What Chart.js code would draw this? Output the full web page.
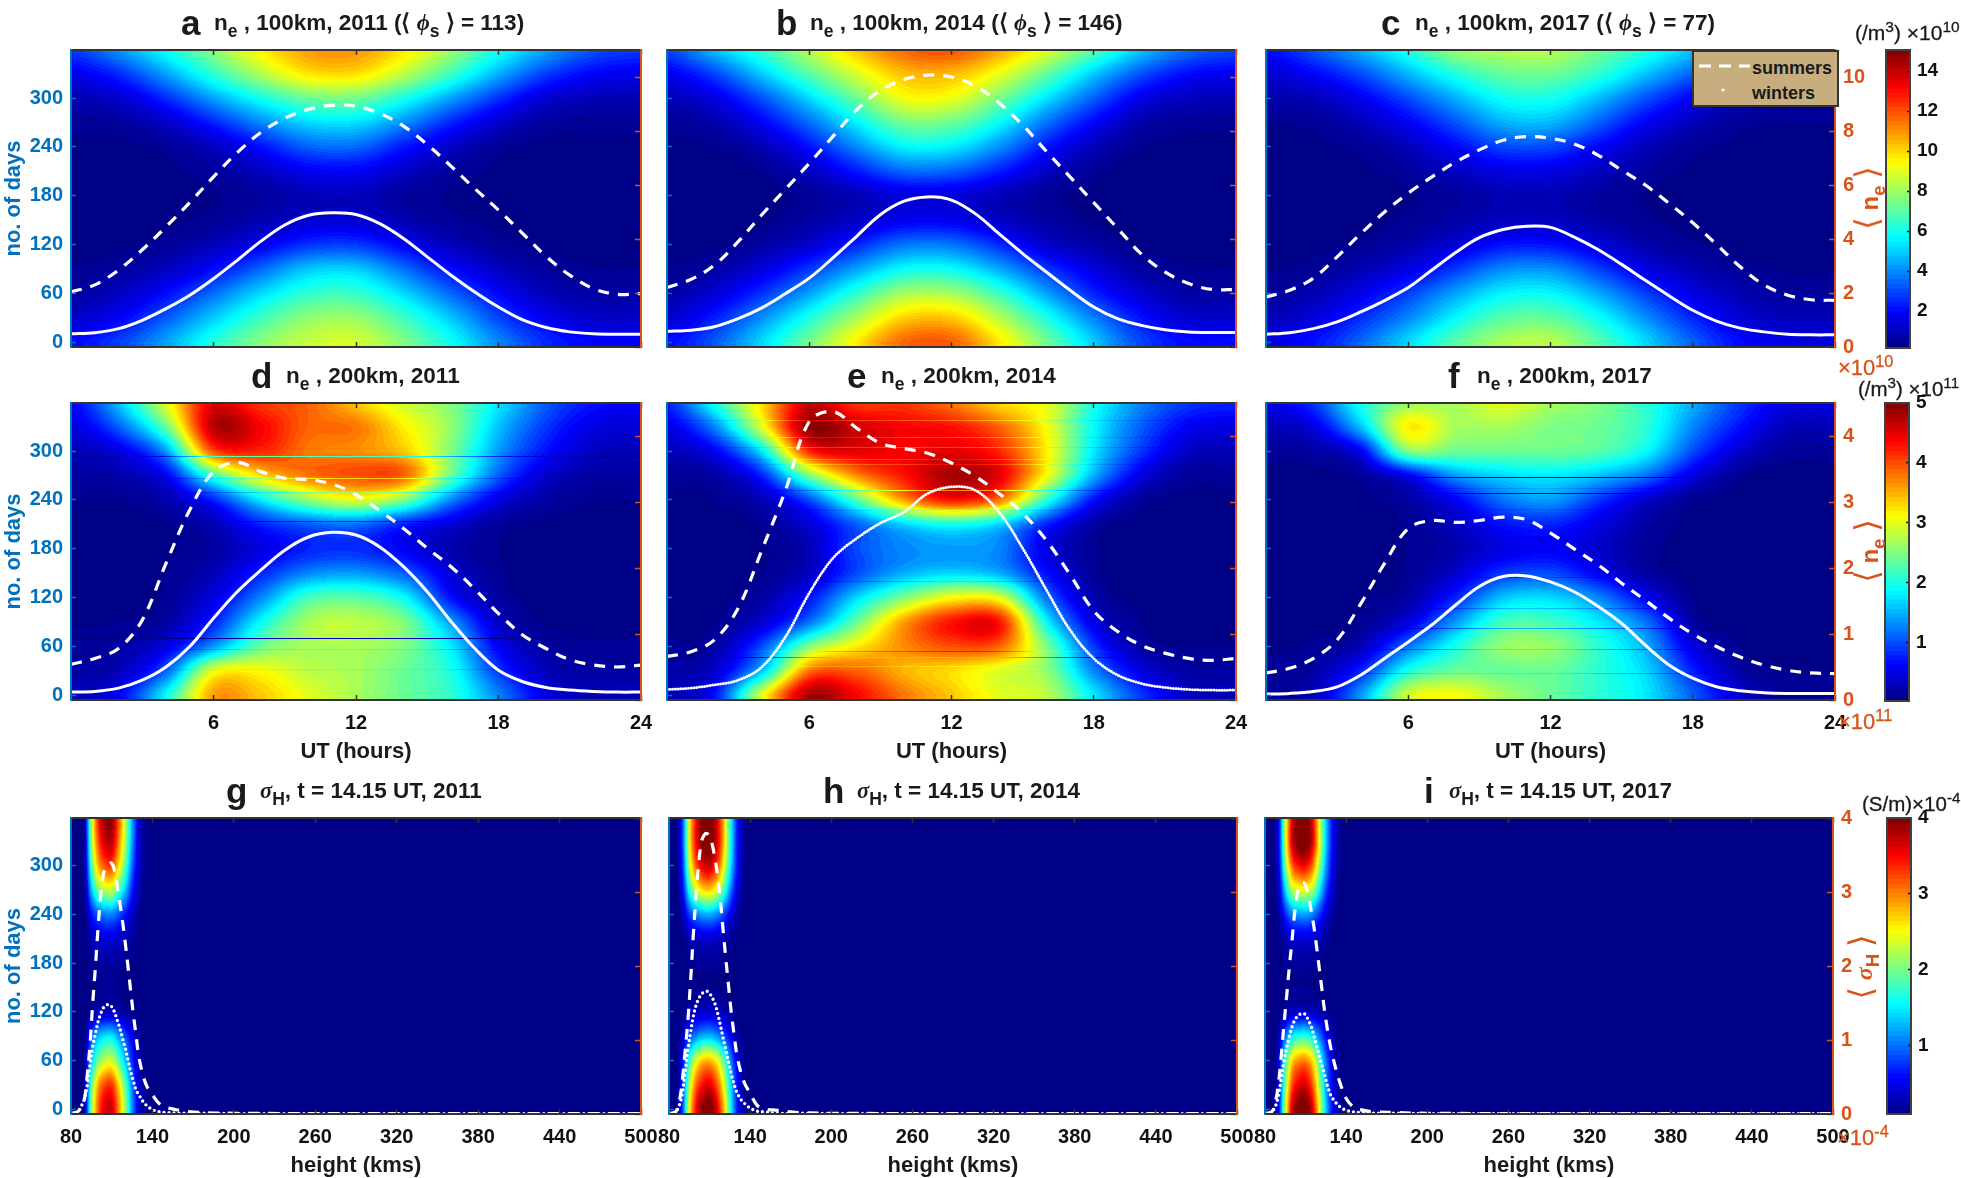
<!DOCTYPE html>
<html>
<head>
<meta charset="utf-8">
<title>Electron density and Hall conductivity</title>
<script src="https://cdn.jsdelivr.net/npm/chart.js@4/dist/chart.umd.min.js"></script>
<style>
  html, body { margin: 0; padding: 0; background: #fff; }
  #page { position: relative; width: 1961px; height: 1178px; overflow: hidden; font-family: "Liberation Sans", Arial, sans-serif; }
  canvas { position: absolute; }
  .lab { position: absolute; white-space: nowrap; line-height: 1; font-weight: bold; color: #1a1a1a; z-index: 5; }
  .lab sub { font-size: .78em; vertical-align: -.38em; line-height: 0; }
  .lab sup { font-size: .74em; vertical-align: .5em; line-height: 0; }
  .lab i { font-family: "Liberation Serif", serif; }
  .lab b { font-size: 1.35em; font-weight: normal; line-height: 0; font-family: "DejaVu Sans", sans-serif; }
  .reg { font-weight: normal; -webkit-text-stroke: .3px currentColor; }
  #legend { position: absolute; left: 1692px; top: 50px; width: 143px; height: 53px; background: #c8ae7f; border: 2px solid #333; z-index: 6; }
</style>
</head>
<body>
<div id="page"></div>
<script>
// axes of the value grids
const gridHours = [0, 2, 4, 6, 8, 10, 12, 14, 16, 18, 20, 22, 24];
const gridHeights = [80, 85, 90, 95, 100, 105, 110, 115, 120, 125, 130, 135, 140, 145, 150];
const gridDays = [360, 330, 300, 270, 240, 210, 180, 150, 120, 90, 60, 30, 0];

// tick labels
const dayTicks = [0, 60, 120, 180, 240, 300];
const hourTicks = [6, 12, 18, 24];
const heightTicks = [80, 140, 200, 260, 320, 380, 440, 500];
const row1ValTicks = [0, 2, 4, 6, 8, 10];
const row2ValTicks = [0, 1, 2, 3, 4];
const row3ValTicks = [0, 1, 2, 3, 4];
const bar1Ticks = [2, 4, 6, 8, 10, 12, 14];
const bar2Ticks = [1, 2, 3, 4, 5];
const bar3Ticks = [1, 2, 3, 4];

// n_e at 100 km (x10^10 /m3), rows by gridDays, columns by gridHours
const ne100km2011 = [
  [2.8, 4.2, 5.9, 7.7, 9.6, 10.9, 11.0, 9.8, 8.0, 6.0, 4.4, 3.2, 2.8],
  [1.7, 2.6, 4.4, 6.4, 8.3, 9.8, 9.9, 8.5, 6.6, 4.6, 2.9, 2.0, 1.7],
  [0.9, 1.3, 2.6, 4.4, 6.0, 7.3, 7.4, 6.1, 4.4, 2.7, 1.4, 1.0, 0.9],
  [0.5, 0.6, 1.2, 2.5, 4.0, 5.2, 5.3, 4.1, 2.5, 1.3, 0.6, 0.5, 0.5],
  [0.3, 0.3, 0.5, 1.1, 2.2, 3.4, 3.5, 2.3, 1.2, 0.5, 0.3, 0.3, 0.3],
  [0.2, 0.2, 0.3, 0.6, 1.1, 1.8, 1.9, 1.2, 0.6, 0.3, 0.2, 0.2, 0.2],
  [0.2, 0.2, 0.2, 0.35, 0.6, 1.0, 1.05, 0.6, 0.35, 0.2, 0.2, 0.2, 0.2],
  [0.2, 0.2, 0.3, 0.5, 0.9, 1.3, 1.35, 0.9, 0.5, 0.3, 0.2, 0.2, 0.2],
  [0.3, 0.3, 0.5, 1.0, 1.8, 2.7, 2.8, 1.9, 1.0, 0.5, 0.3, 0.3, 0.3],
  [0.4, 0.6, 1.1, 2.1, 3.5, 4.9, 5.0, 3.6, 2.1, 1.1, 0.6, 0.4, 0.4],
  [0.7, 1.1, 2.1, 3.6, 5.2, 6.4, 6.5, 5.2, 3.5, 2.0, 1.0, 0.7, 0.7],
  [1.2, 1.9, 3.3, 5.0, 6.6, 7.8, 7.9, 6.6, 4.9, 3.0, 1.8, 1.2, 1.2],
  [2.1, 2.9, 4.4, 6.2, 7.7, 8.6, 8.8, 7.6, 5.9, 4.0, 2.6, 2.0, 1.9]
];
const ne100km2014 = [
  [3.0, 4.8, 6.5, 8.4, 10.3, 11.7, 12.0, 10.8, 9.0, 7.0, 4.9, 3.6, 3.0],
  [1.8, 3.0, 5.0, 7.0, 8.9, 10.4, 10.5, 9.2, 7.2, 5.0, 3.2, 2.1, 1.8],
  [1.0, 1.6, 3.2, 5.2, 7.3, 9.3, 9.2, 7.5, 5.4, 3.4, 1.7, 1.1, 1.0],
  [0.5, 0.8, 1.9, 3.6, 5.6, 7.4, 7.3, 5.8, 3.7, 2.0, 0.8, 0.5, 0.5],
  [0.3, 0.4, 0.9, 2.2, 4.0, 5.6, 5.5, 4.1, 2.3, 1.0, 0.4, 0.3, 0.3],
  [0.2, 0.2, 0.4, 1.1, 2.3, 3.5, 3.4, 2.4, 1.2, 0.5, 0.2, 0.2, 0.2],
  [0.2, 0.2, 0.25, 0.5, 1.0, 1.5, 1.5, 1.0, 0.5, 0.25, 0.2, 0.2, 0.2],
  [0.2, 0.2, 0.3, 0.7, 1.2, 1.8, 1.8, 1.2, 0.7, 0.3, 0.2, 0.2, 0.2],
  [0.3, 0.3, 0.7, 1.3, 2.5, 3.7, 3.7, 2.6, 1.3, 0.7, 0.3, 0.3, 0.3],
  [0.4, 0.7, 1.5, 2.8, 4.4, 5.8, 5.8, 4.5, 2.8, 1.5, 0.7, 0.4, 0.4],
  [0.7, 1.4, 2.7, 4.4, 6.4, 8.1, 8.1, 6.6, 4.4, 2.5, 1.3, 0.7, 0.7],
  [1.3, 2.4, 4.1, 6.1, 8.2, 10.1, 10.2, 8.4, 6.1, 3.9, 2.2, 1.3, 1.3],
  [2.1, 3.3, 5.2, 7.4, 9.7, 11.7, 11.8, 9.8, 7.4, 5.0, 3.0, 2.1, 2.1]
];
const ne100km2017 = [
  [2.1, 3.2, 4.6, 6.2, 7.9, 8.3, 8.4, 7.4, 6.2, 4.9, 3.4, 2.5, 2.1],
  [1.3, 2.0, 3.1, 4.7, 6.2, 7.2, 7.3, 6.4, 4.9, 3.4, 2.1, 1.4, 1.3],
  [0.8, 1.0, 1.8, 3.1, 4.6, 5.9, 6.0, 4.8, 3.2, 1.9, 1.0, 0.8, 0.8],
  [0.4, 0.5, 1.0, 1.9, 3.2, 4.6, 4.7, 3.4, 1.9, 1.0, 0.5, 0.4, 0.4],
  [0.25, 0.3, 0.5, 1.0, 2.0, 3.0, 3.0, 2.0, 1.0, 0.5, 0.3, 0.25, 0.25],
  [0.2, 0.2, 0.3, 0.6, 1.1, 1.6, 1.6, 1.1, 0.6, 0.3, 0.2, 0.2, 0.2],
  [0.2, 0.2, 0.2, 0.35, 0.6, 0.95, 0.95, 0.6, 0.35, 0.2, 0.2, 0.2, 0.2],
  [0.2, 0.2, 0.25, 0.45, 0.75, 1.1, 1.1, 0.75, 0.45, 0.25, 0.2, 0.2, 0.2],
  [0.25, 0.3, 0.45, 0.8, 1.4, 2.2, 2.2, 1.5, 0.8, 0.45, 0.25, 0.25, 0.25],
  [0.35, 0.5, 0.9, 1.6, 2.8, 4.0, 4.1, 2.9, 1.6, 0.9, 0.5, 0.35, 0.35],
  [0.6, 0.9, 1.7, 2.9, 4.4, 5.6, 5.7, 4.5, 2.9, 1.6, 0.9, 0.6, 0.6],
  [1.0, 1.5, 2.6, 4.0, 5.7, 7.0, 7.1, 5.9, 4.1, 2.5, 1.4, 1.0, 1.0],
  [1.6, 2.2, 3.5, 5.2, 7.0, 8.2, 8.4, 7.0, 5.2, 3.4, 2.1, 1.6, 1.6]
];

// n_e at 200 km (x10^11 /m3)
const ne200km2011 = [
  [0.6, 1.6, 3.0, 4.5, 4.1, 3.9, 3.4, 2.9, 2.5, 1.8, 1.1, 0.7, 0.6],
  [0.45, 1.1, 2.4, 4.7, 4.4, 3.9, 3.8, 3.2, 2.6, 1.6, 0.9, 0.5, 0.45],
  [0.3, 0.5, 1.4, 4.0, 4.2, 3.8, 3.7, 3.4, 2.5, 1.4, 0.7, 0.35, 0.3],
  [0.2, 0.25, 0.6, 2.2, 3.3, 3.8, 4.0, 3.9, 2.4, 1.1, 0.4, 0.2, 0.2],
  [0.1, 0.1, 0.25, 0.8, 1.8, 2.6, 3.0, 2.5, 1.3, 0.5, 0.2, 0.1, 0.1],
  [0.06, 0.06, 0.1, 0.3, 0.8, 1.1, 1.2, 0.8, 0.45, 0.15, 0.08, 0.06, 0.06],
  [0.05, 0.05, 0.08, 0.2, 0.5, 0.8, 0.85, 0.6, 0.25, 0.1, 0.05, 0.05, 0.05],
  [0.05, 0.05, 0.1, 0.3, 0.8, 1.3, 1.4, 1.1, 0.45, 0.12, 0.05, 0.05, 0.05],
  [0.05, 0.06, 0.12, 0.5, 1.3, 2.2, 2.3, 1.9, 0.7, 0.18, 0.06, 0.05, 0.05],
  [0.08, 0.1, 0.2, 0.8, 1.9, 2.7, 2.8, 2.5, 1.4, 0.35, 0.08, 0.07, 0.07],
  [0.15, 0.2, 0.5, 1.4, 2.4, 2.7, 2.7, 2.5, 1.8, 0.6, 0.2, 0.12, 0.12],
  [0.2, 0.3, 1.1, 3.0, 3.1, 2.8, 2.7, 2.4, 2.0, 0.9, 0.3, 0.2, 0.2],
  [0.3, 0.6, 1.9, 3.6, 3.4, 3.0, 2.7, 2.4, 2.1, 1.3, 0.5, 0.3, 0.3]
];
const ne200km2014 = [
  [0.8, 2.0, 3.3, 4.6, 4.1, 4.1, 3.8, 3.3, 3.0, 2.0, 1.3, 0.9, 0.8],
  [0.5, 1.3, 3.0, 4.9, 4.6, 4.4, 4.3, 3.9, 3.1, 1.9, 1.1, 0.6, 0.5],
  [0.3, 0.6, 1.8, 4.2, 4.5, 4.4, 4.5, 4.2, 3.2, 1.8, 0.9, 0.35, 0.3],
  [0.15, 0.2, 0.8, 2.5, 3.7, 4.3, 4.8, 4.5, 3.1, 1.5, 0.5, 0.15, 0.15],
  [0.08, 0.1, 0.3, 1.0, 2.3, 3.6, 4.3, 3.8, 2.1, 0.7, 0.15, 0.08, 0.08],
  [0.05, 0.06, 0.12, 0.45, 1.1, 1.7, 2.0, 1.7, 0.8, 0.2, 0.06, 0.05, 0.05],
  [0.04, 0.04, 0.08, 0.3, 1.0, 1.3, 1.4, 1.3, 0.5, 0.12, 0.05, 0.04, 0.04],
  [0.04, 0.05, 0.1, 0.35, 1.0, 1.5, 1.7, 1.5, 0.7, 0.14, 0.05, 0.04, 0.04],
  [0.05, 0.07, 0.2, 0.7, 1.7, 2.5, 3.1, 3.0, 1.2, 0.25, 0.06, 0.05, 0.05],
  [0.07, 0.1, 0.4, 1.2, 2.4, 3.6, 4.3, 4.3, 1.9, 0.5, 0.1, 0.06, 0.06],
  [0.12, 0.2, 1.0, 2.5, 3.2, 3.7, 4.0, 3.9, 2.5, 0.9, 0.2, 0.1, 0.1],
  [0.2, 0.4, 1.6, 3.8, 3.9, 3.5, 3.3, 3.0, 2.6, 1.3, 0.5, 0.2, 0.2],
  [0.3, 0.7, 3.0, 4.8, 4.4, 3.8, 3.4, 3.0, 2.8, 1.8, 0.9, 0.35, 0.3]
];
const ne200km2017 = [
  [0.5, 0.9, 2.0, 2.6, 2.7, 3.0, 2.7, 2.5, 2.1, 1.5, 0.9, 0.5, 0.5],
  [0.3, 0.5, 1.6, 3.2, 2.7, 2.7, 2.5, 2.4, 2.1, 1.3, 0.7, 0.3, 0.3],
  [0.15, 0.2, 0.6, 2.5, 2.4, 2.4, 2.4, 2.3, 1.9, 1.0, 0.4, 0.15, 0.15],
  [0.06, 0.06, 0.15, 0.6, 1.4, 1.7, 1.8, 1.6, 1.2, 0.5, 0.12, 0.06, 0.06],
  [0.05, 0.05, 0.08, 0.2, 0.6, 1.2, 1.4, 0.9, 0.4, 0.12, 0.06, 0.05, 0.05],
  [0.04, 0.04, 0.05, 0.12, 0.35, 0.7, 0.8, 0.5, 0.2, 0.07, 0.04, 0.04, 0.04],
  [0.03, 0.03, 0.04, 0.1, 0.25, 0.5, 0.6, 0.4, 0.15, 0.05, 0.03, 0.03, 0.03],
  [0.03, 0.03, 0.05, 0.12, 0.4, 0.9, 1.0, 0.6, 0.2, 0.05, 0.03, 0.03, 0.03],
  [0.03, 0.04, 0.08, 0.2, 0.8, 1.6, 1.7, 1.3, 0.6, 0.1, 0.04, 0.03, 0.03],
  [0.05, 0.06, 0.12, 0.5, 1.4, 2.2, 2.2, 1.8, 1.2, 0.2, 0.05, 0.04, 0.04],
  [0.08, 0.12, 0.3, 1.2, 2.0, 2.6, 2.6, 2.1, 1.5, 0.5, 0.1, 0.06, 0.06],
  [0.12, 0.2, 0.8, 2.0, 2.4, 2.4, 2.4, 2.1, 1.7, 0.8, 0.2, 0.1, 0.1],
  [0.18, 0.3, 1.4, 2.9, 3.1, 2.7, 2.4, 2.1, 1.8, 1.1, 0.4, 0.15, 0.15]
];

// sigma_H (x10^-4 S/m), rows by gridDays, columns by gridHeights
const sigma2011 = [
  [0.1, 0.1, 0.3, 2.2, 3.4, 3.9, 3.95, 3.2, 2.3, 1.25, 0.45, 0.18, 0.11, 0.1, 0.1],
  [0.1, 0.1, 0.28, 2.1, 3.2, 3.7, 3.75, 3.05, 2.2, 1.2, 0.42, 0.17, 0.11, 0.1, 0.1],
  [0.1, 0.1, 0.25, 1.8, 2.8, 3.2, 3.25, 2.65, 1.9, 1.0, 0.4, 0.16, 0.11, 0.1, 0.1],
  [0.1, 0.1, 0.18, 1.3, 2.0, 2.25, 2.3, 1.85, 1.35, 0.7, 0.3, 0.14, 0.1, 0.1, 0.1],
  [0.1, 0.1, 0.13, 0.62, 0.95, 1.07, 1.1, 0.9, 0.65, 0.38, 0.2, 0.12, 0.1, 0.1, 0.1],
  [0.1, 0.1, 0.11, 0.3, 0.42, 0.47, 0.48, 0.4, 0.32, 0.22, 0.14, 0.11, 0.1, 0.1, 0.1],
  [0.1, 0.1, 0.1, 0.17, 0.21, 0.23, 0.23, 0.2, 0.17, 0.14, 0.11, 0.1, 0.1, 0.1, 0.1],
  [0.1, 0.1, 0.1, 0.14, 0.17, 0.18, 0.18, 0.16, 0.14, 0.12, 0.1, 0.1, 0.1, 0.1, 0.1],
  [0.1, 0.1, 0.11, 0.22, 0.31, 0.35, 0.35, 0.29, 0.22, 0.16, 0.11, 0.1, 0.1, 0.1, 0.1],
  [0.1, 0.1, 0.14, 0.85, 1.3, 1.45, 1.48, 1.2, 0.85, 0.5, 0.22, 0.12, 0.1, 0.1, 0.1],
  [0.1, 0.1, 0.2, 1.3, 2.0, 2.3, 2.35, 1.9, 1.35, 0.75, 0.3, 0.13, 0.1, 0.1, 0.1],
  [0.1, 0.1, 0.26, 1.85, 2.85, 3.25, 3.3, 2.7, 1.9, 1.05, 0.4, 0.15, 0.1, 0.1, 0.1],
  [0.1, 0.1, 0.3, 2.05, 3.15, 3.65, 3.7, 3.0, 2.15, 1.15, 0.43, 0.16, 0.1, 0.1, 0.1]
];
const sigma2014 = [
  [0.1, 0.1, 0.85, 2.5, 3.5, 4.0, 4.1, 3.7, 2.9, 1.75, 0.75, 0.25, 0.12, 0.1, 0.1],
  [0.1, 0.1, 0.85, 2.5, 3.5, 4.0, 4.1, 3.7, 2.9, 1.75, 0.75, 0.25, 0.12, 0.1, 0.1],
  [0.1, 0.1, 0.75, 2.25, 3.15, 3.6, 3.7, 3.35, 2.6, 1.6, 0.7, 0.22, 0.12, 0.1, 0.1],
  [0.1, 0.1, 0.55, 1.65, 2.3, 2.65, 2.7, 2.45, 1.9, 1.15, 0.5, 0.18, 0.11, 0.1, 0.1],
  [0.1, 0.1, 0.3, 0.8, 1.08, 1.22, 1.25, 1.13, 0.9, 0.55, 0.27, 0.14, 0.1, 0.1, 0.1],
  [0.1, 0.1, 0.15, 0.29, 0.37, 0.41, 0.42, 0.39, 0.32, 0.22, 0.15, 0.11, 0.1, 0.1, 0.1],
  [0.1, 0.1, 0.11, 0.16, 0.18, 0.2, 0.2, 0.19, 0.17, 0.14, 0.11, 0.1, 0.1, 0.1, 0.1],
  [0.1, 0.1, 0.11, 0.13, 0.15, 0.16, 0.16, 0.15, 0.14, 0.12, 0.11, 0.1, 0.1, 0.1, 0.1],
  [0.1, 0.1, 0.15, 0.28, 0.35, 0.39, 0.4, 0.37, 0.3, 0.22, 0.14, 0.11, 0.1, 0.1, 0.1],
  [0.1, 0.1, 0.32, 0.82, 1.12, 1.27, 1.3, 1.17, 0.93, 0.58, 0.28, 0.14, 0.1, 0.1, 0.1],
  [0.1, 0.1, 0.58, 1.7, 2.4, 2.75, 2.8, 2.55, 1.98, 1.2, 0.52, 0.2, 0.11, 0.1, 0.1],
  [0.1, 0.1, 0.75, 2.2, 3.1, 3.5, 3.6, 3.25, 2.55, 1.55, 0.68, 0.22, 0.12, 0.1, 0.1],
  [0.1, 0.1, 0.85, 2.5, 3.5, 4.0, 4.1, 3.7, 2.9, 1.75, 0.75, 0.25, 0.12, 0.1, 0.1]
];
const sigma2017 = [
  [0.1, 0.1, 0.55, 2.3, 3.6, 4.0, 4.05, 3.6, 2.5, 1.35, 0.6, 0.22, 0.12, 0.1, 0.1],
  [0.1, 0.1, 0.55, 2.3, 3.65, 4.05, 4.1, 3.65, 2.55, 1.4, 0.6, 0.22, 0.12, 0.1, 0.1],
  [0.1, 0.1, 0.48, 2.0, 3.1, 3.45, 3.5, 3.1, 2.2, 1.2, 0.52, 0.2, 0.11, 0.1, 0.1],
  [0.1, 0.1, 0.36, 1.4, 2.2, 2.4, 2.45, 2.2, 1.55, 0.85, 0.4, 0.16, 0.11, 0.1, 0.1],
  [0.1, 0.1, 0.22, 0.72, 1.08, 1.18, 1.2, 1.08, 0.78, 0.45, 0.23, 0.13, 0.1, 0.1, 0.1],
  [0.1, 0.1, 0.14, 0.3, 0.41, 0.44, 0.45, 0.41, 0.32, 0.22, 0.15, 0.11, 0.1, 0.1, 0.1],
  [0.1, 0.1, 0.11, 0.17, 0.2, 0.22, 0.22, 0.2, 0.17, 0.14, 0.11, 0.1, 0.1, 0.1, 0.1],
  [0.1, 0.1, 0.11, 0.14, 0.16, 0.17, 0.17, 0.16, 0.14, 0.12, 0.11, 0.1, 0.1, 0.1, 0.1],
  [0.1, 0.1, 0.13, 0.26, 0.36, 0.39, 0.4, 0.36, 0.28, 0.2, 0.14, 0.11, 0.1, 0.1, 0.1],
  [0.1, 0.1, 0.28, 0.98, 1.5, 1.67, 1.7, 1.5, 1.08, 0.6, 0.3, 0.14, 0.1, 0.1, 0.1],
  [0.1, 0.1, 0.42, 1.7, 2.65, 2.95, 3.0, 2.65, 1.85, 1.0, 0.45, 0.18, 0.11, 0.1, 0.1],
  [0.1, 0.1, 0.5, 2.05, 3.2, 3.6, 3.65, 3.2, 2.25, 1.2, 0.53, 0.2, 0.12, 0.1, 0.1],
  [0.1, 0.1, 0.55, 2.3, 3.65, 4.05, 4.1, 3.65, 2.55, 1.4, 0.6, 0.22, 0.12, 0.1, 0.1]
];

// one-day streaks seen in the 200 km panels: [day, multiplier]
const streaks2011 = [[293, 0.6], [266, 0.85], [249, 0.8], [213, 0.7], [70, 0.12], [56, 0.85], [32, 0.9]];
const streaks2014 = [[337, 0.9], [316, 0.92], [304, 0.9], [289, 0.93], [283, 0.92], [251, 0.8], [227, 0.9], [140, 0.85], [53, 1.1], [46, 0.55], [35, 0.95]];
const streaks2017 = [[267, 0.35], [254, 0.9], [248, 0.35], [228, 0.9], [144, 0.8], [107, 0.8], [82, 0.65], [56, 0.75], [27, 0.8]];

// x values of the mean curves
const lineHours = [0, 1, 2, 3, 4, 5, 6, 7, 8, 9, 10, 11, 12, 13, 14, 15, 16, 17, 18, 19, 20, 21, 22, 23, 24];
const lineHeights = [80, 85, 88, 90, 92, 94, 96, 98, 100, 102, 104, 106, 108, 110, 112, 114, 116, 118, 120, 122, 124, 126, 128, 130, 133, 136, 140, 145, 150, 160, 175, 200, 300, 500];

// mean curves, summers and winters
const summers100km2011 = [2.04, 2.3, 2.85, 3.6, 4.45, 5.35, 6.3, 7.2, 7.95, 8.47, 8.8, 8.95, 8.92, 8.65, 8.18, 7.5, 6.7, 5.87, 5.07, 4.22, 3.36, 2.66, 2.16, 1.95, 1.98];
const winters100km2011 = [0.49, 0.53, 0.68, 0.99, 1.42, 1.92, 2.53, 3.21, 3.92, 4.52, 4.88, 4.97, 4.91, 4.57, 4.02, 3.34, 2.66, 2.04, 1.48, 1.01, 0.72, 0.56, 0.49, 0.47, 0.47];
const summers100km2014 = [2.2, 2.5, 3.03, 3.9, 4.9, 5.85, 6.8, 7.8, 8.78, 9.5, 9.91, 10.07, 10.0, 9.67, 9.05, 8.22, 7.25, 6.3, 5.35, 4.4, 3.45, 2.78, 2.35, 2.13, 2.13];
const winters100km2014 = [0.58, 0.62, 0.75, 1.05, 1.45, 1.98, 2.55, 3.3, 4.1, 4.9, 5.4, 5.56, 5.44, 4.94, 4.2, 3.46, 2.78, 2.1, 1.48, 1.05, 0.8, 0.64, 0.56, 0.54, 0.54];
const summers100km2017 = [1.85, 2.1, 2.55, 3.34, 4.2, 5.0, 5.7, 6.3, 6.85, 7.3, 7.66, 7.79, 7.73, 7.52, 7.11, 6.55, 6.0, 5.32, 4.6, 3.8, 2.97, 2.3, 1.92, 1.75, 1.73];
const winters100km2017 = [0.47, 0.53, 0.68, 0.93, 1.3, 1.72, 2.2, 2.85, 3.5, 4.05, 4.35, 4.47, 4.43, 4.07, 3.61, 3.06, 2.47, 1.9, 1.36, 0.96, 0.7, 0.56, 0.47, 0.45, 0.45];

const summers200km2011 = [0.54, 0.63, 0.78, 1.21, 2.07, 2.88, 3.46, 3.6, 3.46, 3.36, 3.34, 3.27, 3.11, 2.87, 2.6, 2.3, 2.02, 1.68, 1.31, 0.99, 0.78, 0.61, 0.53, 0.5, 0.53];
const winters200km2011 = [0.12, 0.13, 0.18, 0.3, 0.5, 0.81, 1.24, 1.64, 1.97, 2.27, 2.47, 2.54, 2.5, 2.32, 2.02, 1.64, 1.19, 0.78, 0.45, 0.28, 0.19, 0.15, 0.13, 0.12, 0.12];
const summers200km2014 = [0.66, 0.73, 0.91, 1.39, 2.27, 3.18, 4.22, 4.37, 4.12, 3.89, 3.81, 3.74, 3.59, 3.39, 3.13, 2.83, 2.42, 1.9, 1.35, 1.04, 0.83, 0.71, 0.63, 0.6, 0.63];
const winters200km2014 = [0.16, 0.18, 0.23, 0.3, 0.5, 0.96, 1.62, 2.15, 2.45, 2.68, 2.85, 3.13, 3.23, 3.18, 2.85, 2.3, 1.67, 1.06, 0.63, 0.38, 0.25, 0.19, 0.16, 0.15, 0.15];
const summers200km2017 = [0.41, 0.48, 0.63, 0.91, 1.46, 2.07, 2.6, 2.72, 2.69, 2.72, 2.77, 2.73, 2.53, 2.29, 2.05, 1.77, 1.51, 1.24, 1.0, 0.81, 0.65, 0.53, 0.45, 0.41, 0.4];
const winters200km2017 = [0.09, 0.1, 0.13, 0.2, 0.38, 0.63, 0.88, 1.14, 1.44, 1.72, 1.87, 1.88, 1.79, 1.64, 1.42, 1.16, 0.83, 0.53, 0.33, 0.2, 0.14, 0.11, 0.1, 0.1, 0.1];

const summersSigma2011 = [0.01, 0.03, 0.12, 0.21, 0.53, 0.93, 1.5, 1.99, 2.53, 2.98, 3.25, 3.34, 3.38, 3.39, 3.3, 3.09, 2.85, 2.6, 2.31, 1.99, 1.66, 1.34, 1.05, 0.77, 0.53, 0.37, 0.26, 0.14, 0.09, 0.05, 0.02, 0.01, 0.005, 0.005];
const wintersSigma2011 = [0.01, 0.03, 0.12, 0.21, 0.39, 0.66, 0.91, 1.09, 1.25, 1.36, 1.44, 1.47, 1.48, 1.45, 1.38, 1.27, 1.16, 1.02, 0.89, 0.73, 0.57, 0.44, 0.32, 0.26, 0.17, 0.11, 0.06, 0.03, 0.02, 0.01, 0.01, 0.005, 0.005, 0.005];
const summersSigma2014 = [0.01, 0.03, 0.21, 0.48, 0.86, 1.27, 1.81, 2.42, 2.95, 3.4, 3.68, 3.77, 3.79, 3.75, 3.64, 3.45, 3.21, 2.88, 2.49, 2.1, 1.74, 1.38, 1.09, 0.82, 0.57, 0.41, 0.28, 0.12, 0.07, 0.05, 0.02, 0.01, 0.005, 0.005];
const wintersSigma2014 = [0.01, 0.03, 0.14, 0.3, 0.58, 0.86, 1.11, 1.32, 1.47, 1.56, 1.62, 1.65, 1.66, 1.63, 1.57, 1.49, 1.36, 1.2, 1.03, 0.87, 0.7, 0.54, 0.41, 0.3, 0.2, 0.14, 0.08, 0.04, 0.03, 0.01, 0.01, 0.005, 0.005, 0.005];
const summersSigma2017 = [0.01, 0.03, 0.19, 0.42, 0.78, 1.2, 1.59, 1.99, 2.35, 2.73, 2.98, 3.09, 3.13, 3.09, 2.96, 2.76, 2.55, 2.28, 1.99, 1.7, 1.4, 1.16, 0.95, 0.78, 0.57, 0.39, 0.21, 0.1, 0.06, 0.03, 0.02, 0.01, 0.005, 0.005];
const wintersSigma2017 = [0.01, 0.03, 0.12, 0.26, 0.48, 0.71, 0.89, 1.05, 1.18, 1.27, 1.32, 1.35, 1.36, 1.34, 1.27, 1.19, 1.07, 0.93, 0.79, 0.66, 0.53, 0.39, 0.28, 0.21, 0.14, 0.09, 0.05, 0.03, 0.02, 0.01, 0.01, 0.005, 0.005, 0.005];

const LEFT_BLUE = "#0072BD";
const RIGHT_ORANGE = "#D95319";
const DARK = "#333333";
const pageEl = document.getElementById("page");

//MATLAB jet with 64 levels
function jetColor(frac) {
  const f = (Math.min(63, Math.max(0, Math.floor(frac * 64))) + 0.5) / 64;
  const c = (v) => Math.round(255 * Math.min(1, Math.max(0, v)));
  return [
    c(Math.min(4 * f - 1.5, -4 * f + 4.5)),
    c(Math.min(4 * f - 0.5, -4 * f + 3.5)),
    c(Math.min(4 * f + 0.5, -4 * f + 2.5)),
  ];
}

function catmull(a, b, c, d, t) {
  return 0.5 * (2 * b + (c - a) * t + (2 * a - 5 * b + 4 * c - d) * t * t + (3 * b - a - 3 * c + d) * t * t * t);
}

//index and weight of a value on an evenly spaced grid axis
function gridPos(axis, v) {
  const p = Math.min(axis.length - 1, Math.max(0, (v - axis[0]) / (axis[1] - axis[0])));
  const i = Math.min(axis.length - 2, Math.floor(p));
  return [i, p - i];
}

//Plugin that paints the value grid under the curves, placed by the chart's scales
const heatPlugin = {
  id: "heat",
  beforeDatasetsDraw(chart, args, opts) {
    const area = chart.chartArea;
    const w = Math.round(area.right - area.left);
    const h = Math.round(area.bottom - area.top);
    const off = document.createElement("canvas");
    off.width = w;
    off.height = h;
    const offCtx = off.getContext("2d");
    const img = offCtx.createImageData(w, h);
    const xs = [];
    for (let i = 0; i < w; i++) xs.push(gridPos(opts.cols, chart.scales.x.getValueForPixel(area.left + i + 0.5)));
    const nr = opts.rows.length;
    const nc = opts.cols.length;
    for (let j = 0; j < h; j++) {
      const day = chart.scales.yDays.getValueForPixel(area.top + j + 0.5);
      const [r, rt] = gridPos(opts.rows, day);
      const rowIdx = [Math.max(0, r - 1), r, r + 1, Math.min(nr - 1, r + 2)];
      let mult = 1;
      for (const s of opts.streaks) if (Math.abs(s[0] - day) < 0.62) mult = s[1];
      for (let i = 0; i < w; i++) {
        const [c, ct] = xs[i];
        const colIdx = [Math.max(0, c - 1), c, c + 1, Math.min(nc - 1, c + 2)];
        const vals = rowIdx.map((ri) => {
          const row = opts.grid[ri];
          return catmull(row[colIdx[0]], row[colIdx[1]], row[colIdx[2]], row[colIdx[3]], ct);
        });
        const v = catmull(vals[0], vals[1], vals[2], vals[3], rt) * mult;
        const rgb = jetColor((v - opts.vmin) / (opts.vmax - opts.vmin));
        const k = (j * w + i) * 4;
        img.data[k] = rgb[0];
        img.data[k + 1] = rgb[1];
        img.data[k + 2] = rgb[2];
        img.data[k + 3] = 255;
      }
    }
    offCtx.putImageData(img, 0, 0);
    chart.ctx.drawImage(off, area.left, area.top);
  },
};

//Plugin for the colour bars
const barPlugin = {
  id: "cbar",
  beforeDatasetsDraw(chart, args, opts) {
    const area = chart.chartArea;
    const y = chart.scales.y;
    const ctx = chart.ctx;
    for (let i = 0; i < 64; i++) {
      const lo = opts.vmin + ((opts.vmax - opts.vmin) * i) / 64;
      const hi = opts.vmin + ((opts.vmax - opts.vmin) * (i + 1)) / 64;
      const rgb = jetColor((i + 0.5) / 64);
      ctx.fillStyle = `rgb(${rgb[0]},${rgb[1]},${rgb[2]})`;
      ctx.fillRect(area.left, y.getPixelForValue(hi), area.right - area.left, y.getPixelForValue(lo) - y.getPixelForValue(hi) + 1);
    }
  },
  afterDraw(chart) {
    const area = chart.chartArea;
    chart.ctx.strokeStyle = "#404040";
    chart.ctx.lineWidth = 2;
    chart.ctx.strokeRect(area.left, area.top, area.right - area.left, area.bottom - area.top);
  },
};

function fixedTicks(list) {
  return (scale) => {
    scale.ticks = list.map((v) => ({ value: v }));
  };
}

//fix the size of an axis box and stop it asking for room around its labels
function fixBox(scale, w, h) {
  if (w !== null) scale.width = w;
  if (h !== null) scale.height = h;
  scale.paddingTop = 0;
  scale.paddingBottom = 0;
  scale.paddingLeft = 0;
  scale.paddingRight = 0;
}

const tickFont = { family: "'Liberation Sans'", size: 20, weight: "bold" };
const titleFont = { family: "'Liberation Sans'", size: 22, weight: "bold" };

//Create one panel
function makePanel(p) {
  const padLeft = 70, padRight = 60, padTop = 14, padBottom = 65;
  const cv = document.createElement("canvas");
  cv.width = padLeft + p.w + padRight;
  cv.height = padTop + p.h + padBottom;
  cv.style.left = p.left - padLeft + "px";
  cv.style.top = p.top - padTop + "px";
  pageEl.appendChild(cv);
  const xMin = p.height ? 80 : 0;
  const xMax = p.height ? 500 : 24;
  const xTicks = p.height ? heightTicks : hourTicks;
  const xVals = p.height ? lineHeights : lineHours;
  const toPoints = (ys) => ys.map((v, i) => ({ x: xVals[i], y: v }));
  new Chart(cv, {
    type: "line",
    plugins: [heatPlugin],
    data: {
      datasets: [
        {
          label: "summers",
          data: toPoints(p.summers),
          borderColor: "#ffffff",
          borderWidth: 3.2,
          borderDash: [11, 9],
          pointRadius: 0,
          tension: 0.35,
          xAxisID: "x",
          yAxisID: "yVal",
        },
        {
          label: "winters",
          data: toPoints(p.winters),
          borderColor: "#ffffff",
          borderWidth: p.height ? 3.4 : 3,
          borderDash: p.winterDash,
          borderCapStyle: "round",
          pointRadius: 0,
          tension: 0.35,
          xAxisID: "x",
          yAxisID: "yVal",
        },
      ],
    },
    options: {
      responsive: false,
      animation: false,
      layout: { padding: { top: padTop, left: 0, right: 0, bottom: 0 } },
      plugins: {
        legend: { display: false },
        tooltip: { enabled: false },
        heat: { grid: p.grid, cols: p.height ? gridHeights : gridHours, rows: gridDays, vmin: p.vmin, vmax: p.vmax, streaks: p.streaks || [] },
      },
      scales: {
        x: {
          type: "linear",
          position: "bottom",
          min: xMin,
          max: xMax,
          afterBuildTicks: fixedTicks(xTicks),
          afterFit: (s) => fixBox(s, null, padBottom),
          grid: { drawOnChartArea: false, tickLength: -5, tickColor: DARK, tickWidth: 1.5, z: 1 },
          border: { color: DARK, width: 2, z: 2 },
          ticks: { display: !!p.showX, autoSkip: false, maxRotation: 0, padding: 16, color: "#111", font: tickFont },
          title: { display: !!p.showX, text: p.height ? "height (kms)" : "UT (hours)", color: "#1a1a1a", font: titleFont, padding: 0 },
        },
        xTop: {
          type: "linear",
          position: "top",
          min: xMin,
          max: xMax,
          afterBuildTicks: fixedTicks(xTicks),
          afterFit: (s) => fixBox(s, null, 0),
          grid: { drawOnChartArea: false, tickLength: -5, tickColor: DARK, tickWidth: 1.5, z: 1 },
          border: { color: DARK, width: 2, z: 2 },
          ticks: { display: false, autoSkip: false },
        },
        yDays: {
          type: "linear",
          position: "left",
          min: -6,
          max: 359,
          afterBuildTicks: fixedTicks(dayTicks),
          afterFit: (s) => fixBox(s, padLeft, null),
          grid: { drawOnChartArea: false, tickLength: -5, tickColor: LEFT_BLUE, tickWidth: 1.5, z: 1 },
          border: { color: LEFT_BLUE, width: 2, z: 2 },
          ticks: { display: !!p.showLeft, autoSkip: false, padding: 13, color: LEFT_BLUE, font: tickFont },
          title: { display: !!p.showLeft, text: "no. of days", color: LEFT_BLUE, font: titleFont, padding: 0 },
        },
        yVal: {
          type: "linear",
          position: "right",
          min: 0,
          max: p.valMax,
          afterBuildTicks: fixedTicks(p.valTicks),
          afterFit: (s) => fixBox(s, padRight, null),
          grid: { drawOnChartArea: false, tickLength: -6, tickColor: RIGHT_ORANGE, tickWidth: 1.5, z: 1 },
          border: { color: RIGHT_ORANGE, width: 2, z: 2 },
          ticks: { display: !!p.showRight, autoSkip: false, padding: 14, color: RIGHT_ORANGE, font: tickFont },
        },
      },
    },
  });
}

//Create one colour bar
function makeBar(b) {
  const cv = document.createElement("canvas");
  cv.width = 24 + 50 + 4;
  cv.height = b.h + 28;
  cv.style.left = b.left - 2 + "px";
  cv.style.top = b.top - 14 + "px";
  pageEl.appendChild(cv);
  new Chart(cv, {
    type: "line",
    plugins: [barPlugin],
    data: { datasets: [] },
    options: {
      responsive: false,
      animation: false,
      layout: { padding: { top: 14, bottom: 14, left: 2, right: 0 } },
      plugins: { legend: { display: false }, tooltip: { enabled: false }, cbar: { vmin: b.vmin, vmax: b.vmax } },
      scales: {
        x: { type: "linear", display: false, min: 0, max: 1 },
        y: {
          type: "linear",
          position: "right",
          min: b.vmin,
          max: b.vmax,
          afterBuildTicks: fixedTicks(b.ticks),
          afterFit: (s) => fixBox(s, 52, null),
          grid: { drawOnChartArea: false, tickLength: -3, tickColor: "#111", tickWidth: 1.5, z: 1 },
          border: { display: false },
          ticks: { autoSkip: false, padding: 10, color: "#111", font: { family: "'Liberation Sans'", size: 19, weight: "bold" } },
        },
      },
    },
  });
}

//Text that needs sub and superscripts, placed by its baseline
function addLabel(x, baseline, size, html, color, extraClass) {
  const d = document.createElement("div");
  d.className = "lab " + (extraClass || "");
  d.style.left = x + "px";
  d.style.top = baseline - 0.8465 * size + "px";
  d.style.fontSize = size + "px";
  if (color) d.style.color = color;
  d.innerHTML = html;
  pageEl.appendChild(d);
}

function addRotated(cx, cy, size, html, color) {
  const d = document.createElement("div");
  d.className = "lab";
  d.style.left = cx + "px";
  d.style.top = cy + "px";
  d.style.fontSize = size + "px";
  d.style.color = color;
  d.style.transform = "translate(-50%,-50%) rotate(-90deg)";
  d.innerHTML = html;
  pageEl.appendChild(d);
}

const row1 = { top: 50, h: 297, vmin: 0.15, vmax: 15.05, valMax: 11, valTicks: row1ValTicks, showX: false };
const row2 = { top: 403, h: 297, vmin: 0.02, vmax: 5, valMax: 4.5, valTicks: row2ValTicks, showX: true };
const row3 = { top: 818, h: 296, vmin: 0.1, vmax: 4, valMax: 4, valTicks: row3ValTicks, showX: true, height: true };

const panels = [
  { ...row1, left: 71, w: 570, grid: ne100km2011, summers: summers100km2011, winters: winters100km2011, showLeft: true },
  { ...row1, left: 667, w: 569, grid: ne100km2014, summers: summers100km2014, winters: winters100km2014 },
  { ...row1, left: 1266, w: 569, grid: ne100km2017, summers: summers100km2017, winters: winters100km2017, showRight: true },
  { ...row2, left: 71, w: 570, grid: ne200km2011, summers: summers200km2011, winters: winters200km2011, streaks: streaks2011, showLeft: true },
  { ...row2, left: 667, w: 569, grid: ne200km2014, summers: summers200km2014, winters: winters200km2014, streaks: streaks2014, winterDash: [0, 2.7] },
  { ...row2, left: 1266, w: 569, grid: ne200km2017, summers: summers200km2017, winters: winters200km2017, streaks: streaks2017, showRight: true },
  { ...row3, left: 71, w: 570, grid: sigma2011, summers: summersSigma2011, winters: wintersSigma2011, winterDash: [0, 5], showLeft: true },
  { ...row3, left: 669, w: 568, grid: sigma2014, summers: summersSigma2014, winters: wintersSigma2014, winterDash: [0, 5] },
  { ...row3, left: 1265, w: 568, grid: sigma2017, summers: summersSigma2017, winters: wintersSigma2017, winterDash: [0, 5], showRight: true },
];
panels.forEach(makePanel);

makeBar({ left: 1886, top: 50, h: 298, vmin: 0.15, vmax: 15.05, ticks: bar1Ticks });
makeBar({ left: 1885, top: 403, h: 298, vmin: 0.02, vmax: 5, ticks: bar2Ticks });
makeBar({ left: 1887, top: 818, h: 296, vmin: 0.1, vmax: 4, ticks: bar3Ticks });

// panel titles
const LETTER = 35, TXT = 22.5;
const ne = "n<sub>e</sub>";
const phi = "<i>&#981;</i><sub>s</sub>";
const sig = "<i>&sigma;</i><sub>H</sub>";
addLabel(181, 35, LETTER, "a"); addLabel(214, 31, TXT, `${ne} , 100km, 2011 (&#10216; ${phi} &#10217; = 113)`);
addLabel(776, 35, LETTER, "b"); addLabel(810, 31, TXT, `${ne} , 100km, 2014 (&#10216; ${phi} &#10217; = 146)`);
addLabel(1381, 35, LETTER, "c"); addLabel(1415, 31, TXT, `${ne} , 100km, 2017 (&#10216; ${phi} &#10217; = 77)`);
addLabel(251, 388, LETTER, "d"); addLabel(286, 384, TXT, `${ne} , 200km, 2011`);
addLabel(847, 388, LETTER, "e"); addLabel(881, 384, TXT, `${ne} , 200km, 2014`);
addLabel(1448, 388, LETTER, "f"); addLabel(1477, 384, TXT, `${ne} , 200km, 2017`);
addLabel(226, 803, LETTER, "g"); addLabel(260, 799, TXT, `${sig}, t = 14.15 UT, 2011`);
addLabel(823, 803, LETTER, "h"); addLabel(857, 799, TXT, `${sig}, t = 14.15 UT, 2014`);
addLabel(1424, 803, LETTER, "i"); addLabel(1449, 799, TXT, `${sig}, t = 14.15 UT, 2017`);

// right axis names and multipliers
addRotated(1870, 198, 24, `<b>&#10216;</b> ${ne} <b>&#10217;</b>`, RIGHT_ORANGE);
addRotated(1870, 551, 24, `<b>&#10216;</b> ${ne} <b>&#10217;</b>`, RIGHT_ORANGE);
addRotated(1864, 967, 24, `<b>&#10216;</b> ${sig} <b>&#10217;</b>`, RIGHT_ORANGE);
addLabel(1838, 376, 22, "&times;10<sup>10</sup>", RIGHT_ORANGE, "reg");
addLabel(1838, 730, 22, "&times;10<sup>11</sup>", RIGHT_ORANGE, "reg");
addLabel(1837, 1146, 22, "&times;10<sup>-4</sup>", RIGHT_ORANGE, "reg");

// colour bar units
addLabel(1855, 40, 21, "(/m<sup>3</sup>) &times;10<sup>10</sup>", "#1a1a1a", "reg");
addLabel(1858, 396, 20.5, "(/m<sup>3</sup>) &times;10<sup>11</sup>", "#1a1a1a", "reg");
addLabel(1862, 811, 20.5, "(S/m)&times;10<sup>-4</sup>", "#1a1a1a", "reg");

// legend of panel c
const legendEl = document.createElement("div");
legendEl.id = "legend";
legendEl.innerHTML =
  '<svg width="143" height="53" style="position:absolute;left:0;top:0">' +
  '<line x1="5" x2="56" y1="14" y2="14" stroke="#fff" stroke-width="3" stroke-dasharray="12 8"/>' +
  '<circle cx="29" cy="38" r="1.6" fill="#fff"/></svg>' +
  '<div class="lab" style="left:58px;top:7px;font-size:18px">summers</div>' +
  '<div class="lab" style="left:58px;top:32px;font-size:18px">winters</div>';
pageEl.appendChild(legendEl);
</script>
</body>
</html>
